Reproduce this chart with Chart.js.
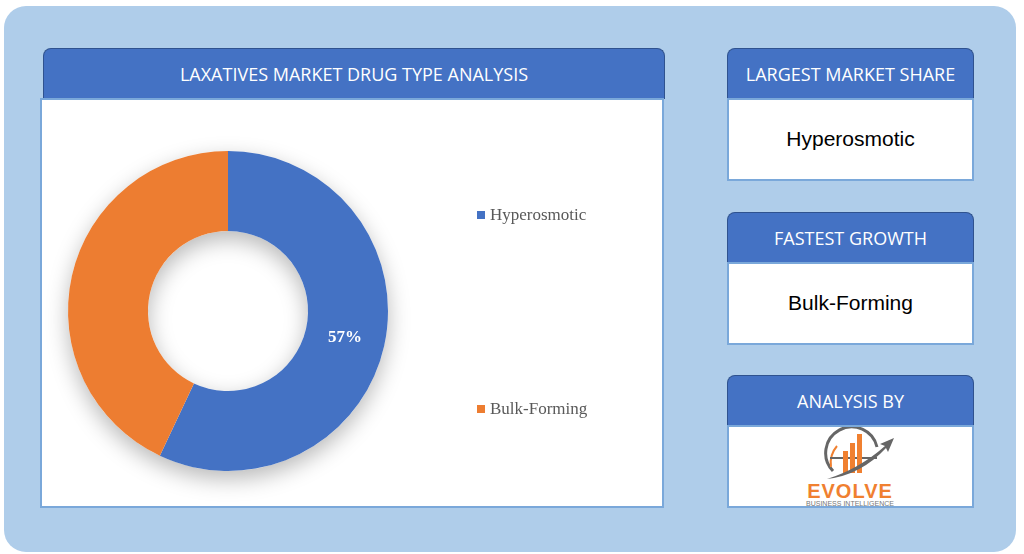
<!DOCTYPE html>
<html>
<head>
<meta charset="utf-8">
<script src="https://cdn.jsdelivr.net/npm/chart.js@4"></script>
<style>
  html, body { margin: 0; padding: 0; background: #fff; width: 1024px; height: 554px; overflow: hidden; }
  .bg { position: absolute; left: 4px; top: 6px; width: 1012px; height: 546px; background: #afcdea; border-radius: 22px; }
  .head { position: absolute; background: #4472c4; border: 1px solid #2f528f; border-bottom: none; border-radius: 8px 8px 0 0;
          color: #fff; font-family: "Open Sans", sans-serif; font-size: 18px; text-align: center; line-height: 50px; box-sizing: border-box; }
  .body { position: absolute; background: #fff; border: 2px solid #7aa8da; box-sizing: border-box; }
  .txt { font-family: "Liberation Sans", Arial, sans-serif; font-size: 21px; color: #000; text-align: center; line-height: 78px; }
  #chartWrap { position: absolute; left: 41px; top: 98px; width: 622px; height: 409px; }
</style>
</head>
<body>
<div class="bg"></div>

<div class="head" style="left:43px;top:48px;width:622px;height:51px;">LAXATIVES MARKET DRUG TYPE ANALYSIS</div>
<div class="body" style="left:40px;top:98px;width:624px;height:410px;"></div>
<div id="chartWrap"><canvas id="chart" width="622" height="409"></canvas></div>

<div class="head" style="left:727px;top:48px;width:247px;height:51px;">LARGEST MARKET SHARE</div>
<div class="body txt" style="left:727px;top:98px;width:247px;height:83px;">Hyperosmotic</div>

<div class="head" style="left:727px;top:212px;width:247px;height:51px;">FASTEST GROWTH</div>
<div class="body txt" style="left:727px;top:262px;width:247px;height:83px;">Bulk-Forming</div>

<div class="head" style="left:727px;top:375px;width:247px;height:51px;">ANALYSIS BY</div>
<div class="body" style="left:727px;top:425px;width:247px;height:83px;">
  <svg width="243" height="79" style="position:absolute;left:0;top:0">
    <path d="M104 44 A26 26 0 1 1 148 20" fill="none" stroke="#666" stroke-width="3"/>
    <path d="M108 19 A26 26 0 0 0 102 40" fill="none" stroke="#f08030" stroke-width="2"/>
    <line x1="101" y1="31" x2="148" y2="31" stroke="#666" stroke-width="2"/>
    <rect x="114" y="24" width="5" height="22" fill="#f08030"/>
    <rect x="121" y="16" width="5" height="30" fill="#f08030"/>
    <rect x="128" y="7" width="5" height="39" fill="#f08030"/>
    <path d="M98 52 Q130 42 156 19 L151 17 L165 11 L159 25 L157 21 Q132 48 98 52 Z" fill="#666"/>
    <text x="121" y="71" text-anchor="middle" font-family="Liberation Sans, Arial" font-weight="bold" font-size="20" fill="#f08030" letter-spacing="1">EVOLVE</text>
    <text x="121" y="79" text-anchor="middle" font-family="Liberation Sans, Arial" font-size="7" fill="#777">BUSINESS INTELLIGENCE</text>
  </svg>
</div>

<script>
var categories = ["Hyperosmotic", "Bulk-Forming"];
var shares = [57, 43];
var colors = ["#4472c4", "#ed7d31"];

// soft shadow under the ring
var shadowPlugin = {
  id: "ringShadow",
  beforeDatasetsDraw: function(chart) {
    var arc = chart.getDatasetMeta(0).data[0];
    var c = chart.ctx;
    c.save();
    c.shadowColor = "rgba(0,0,0,0.28)";
    c.shadowBlur = 22;
    c.shadowOffsetY = 8;
    c.fillStyle = "#fff";
    c.beginPath();
    c.arc(arc.x, arc.y, arc.outerRadius, 0, Math.PI * 2);
    c.arc(arc.x, arc.y, arc.innerRadius, 0, Math.PI * 2, true);
    c.fill();
    c.restore();
  }
};

// value label and legend on the right
var labelPlugin = {
  id: "labels",
  afterDatasetsDraw: function(chart) {
    var c = chart.ctx;
    var meta = chart.getDatasetMeta(0);
    c.save();
    var p = meta.data[0].tooltipPosition();
    c.fillStyle = "#fff";
    c.font = "bold 17px 'Liberation Serif', serif";
    c.textAlign = "center";
    c.textBaseline = "middle";
    c.fillText(shares[0] + "%", p.x, p.y);

    var legendY = [117, 311];
    c.font = "17px 'Liberation Serif', serif";
    c.textAlign = "left";
    for (var i = 0; i < categories.length; i++) {
      c.fillStyle = colors[i];
      c.fillRect(436, legendY[i] - 4, 8, 8);
      c.fillStyle = "#595959";
      c.fillText(categories[i], 449, legendY[i] + 1);
    }
    c.restore();
  }
};

new Chart(document.getElementById("chart"), {
  type: "doughnut",
  data: {
    labels: categories,
    datasets: [{
      data: shares,
      backgroundColor: colors,
      borderWidth: 0,
      hoverOffset: 0
    }]
  },
  options: {
    responsive: false,
    animation: false,
    cutout: "50%",
    layout: { padding: { left: 27, right: 275, top: 53, bottom: 36 } },
    plugins: { legend: { display: false }, tooltip: { enabled: false } }
  },
  plugins: [shadowPlugin, labelPlugin]
});
</script>
</body>
</html>
